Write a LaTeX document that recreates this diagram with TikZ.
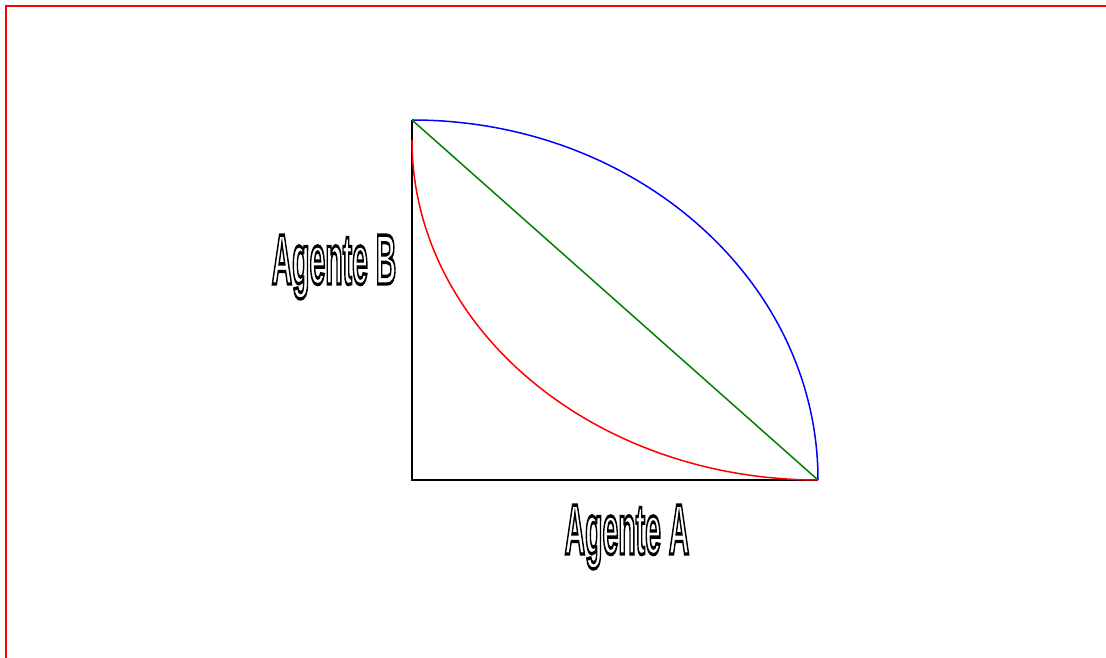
\documentclass[tikz,border=0pt]{standalone}
\usepackage{fontspec}
\usepackage{graphicx}
\setmainfont{Liberation Sans}
\usetikzlibrary{positioning}
\newcommand{\agtext}[1]{\scalebox{0.4}[1]{\special{pdf:code 1 Tr 3.4 w}\bfseries #1\special{pdf:code 0 Tr}}}

\begin{document}
\begin{tikzpicture}[
  x=1pt, y=1pt,
  frame/.style={draw=red, line width=1.5pt},
  axis/.style={draw=black, line width=1.5pt},
  curve/.style={line width=1.5pt},
  lab/.style={font=\fontsize{71}{74}\selectfont, inner sep=0pt, anchor=base},
]
\useasboundingbox (0,0) rectangle (1106,658);
\draw[frame] (6,0) -- (6,652) -- (1106,652);

\coordinate (o) at (412,178);
\coordinate (ytop) at (412,538);
\coordinate (xend) at (818,178);
\coordinate (rstart) at (412,518);

\draw[axis] (ytop) -- (o) -- (xend);
\draw[curve, blue] (ytop) arc[start angle=90, end angle=0, x radius=406, y radius=360];
\draw[curve, red] (rstart) arc[start angle=180, end angle=270, x radius=406, y radius=340];
\draw[curve, green!50!black] (ytop) -- (xend);

\node[lab] (agb) at (334,374) {\agtext{Agente B}};
\node[lab] (aga) at (627,104) {\agtext{Agente A}};
\end{tikzpicture}
\end{document}
